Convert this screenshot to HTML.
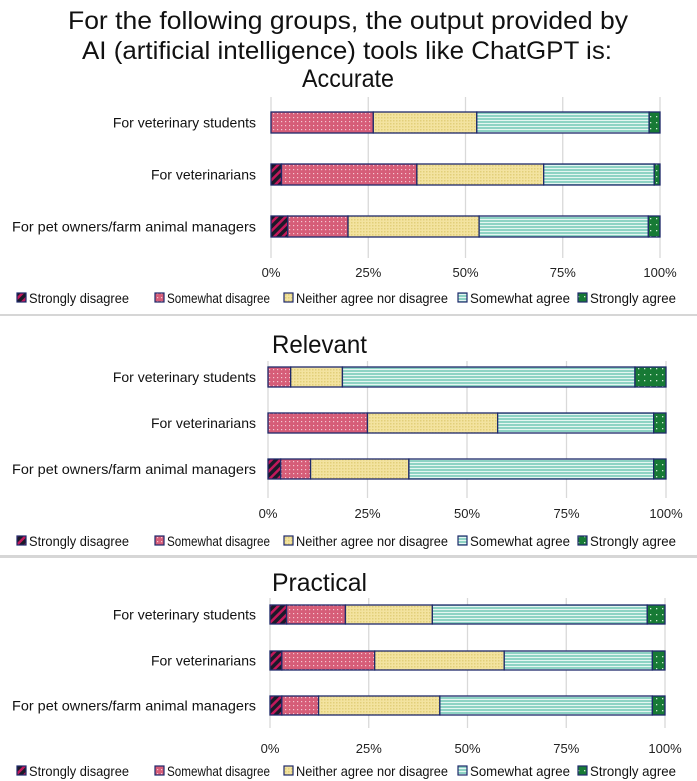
<!DOCTYPE html>
<html><head><meta charset="utf-8"><style>
html,body{margin:0;padding:0;background:#fff;}
svg{display:block;font-family:"Liberation Sans",sans-serif;}
</style></head><body>
<svg id="chart" width="697" height="781" viewBox="0 0 697 781">
<defs>
<pattern id="pSD" width="6" height="6" patternUnits="userSpaceOnUse" patternTransform="rotate(45)"><rect width="6" height="6" fill="#1a1a2a"/><rect width="2.5" height="6" fill="#c2185b"/></pattern>
<pattern id="pSWD" width="4" height="4" patternUnits="userSpaceOnUse"><rect width="4" height="4" fill="#d65d78"/><rect x="1" y="1" width="1.2" height="1.2" fill="#f4c6d0"/></pattern>
<pattern id="pN" width="3" height="3" patternUnits="userSpaceOnUse"><rect width="3" height="3" fill="#f3e3a0"/><rect width="1.5" height="1.5" fill="#e2cf7a"/></pattern>
<pattern id="pSA" width="4" height="3" patternUnits="userSpaceOnUse"><rect width="4" height="3" fill="#8ed3c4"/><rect width="4" height="1" fill="#e4f6f1"/></pattern>
<pattern id="pSTA" width="6" height="6" patternUnits="userSpaceOnUse"><rect width="6" height="6" fill="#177a35"/><rect x="2" y="2" width="1.3" height="1.3" fill="#cfe9d4"/></pattern>
</defs>
<g font-size="25" fill="#111" text-anchor="middle">
<text x="348" y="29" textLength="560" lengthAdjust="spacingAndGlyphs">For the following groups, the output provided by</text>
<text x="347" y="59" textLength="530" lengthAdjust="spacingAndGlyphs">AI (artificial intelligence) tools like ChatGPT is:</text>
</g>
<rect x="0" y="314" width="697" height="2" fill="#d6d6d6"/>
<rect x="0" y="555" width="697" height="3" fill="#d6d6d6"/>
<g id="plots"></g>
</svg>
<script>
const categories = ["For veterinary students","For veterinarians","For pet owners/farm animal managers"];
const seriesNames = ["Strongly disagree","Somewhat disagree","Neither agree nor disagree","Somewhat agree","Strongly agree"];
const panelTitles = ["Accurate","Relevant","Practical"];
const tickLabels = ["0%","25%","50%","75%","100%"];
const tickValues = [0,25,50,75,100];
// per-panel, per-row segment percentages (SD, SWD, N, SA, STA)
const accurateValues = [[0,26.3,26.6,44.3,2.8],[2.7,34.8,32.6,28.4,1.5],[4.3,15.5,33.7,43.5,3.0]];
const relevantValues = [[0,5.7,13.0,73.5,7.8],[0,25.0,32.7,39.2,3.1],[3.2,7.5,24.7,61.5,3.1]];
const practicalValues = [[4.2,14.9,22.0,54.4,4.5],[3.0,23.5,32.8,37.5,3.2],[3.0,9.3,30.7,53.8,3.2]];
const allValues = [accurateValues, relevantValues, practicalValues];

const fills = ["url(#pSD)","url(#pSWD)","url(#pN)","url(#pSA)","url(#pSTA)"];
const layouts = [
 {x0:271,x1:660,title:{x:348,y:87,anchor:"middle",len:92},gridTop:97,gridBot:258,rows:[112,164,216],bh:21,tickY:277,legY:303},
 {x0:268,x1:666,title:{x:272,y:353,anchor:"start",len:95},gridTop:361,gridBot:498,rows:[367,413,459],bh:20,tickY:518,legY:546},
 {x0:270,x1:665,title:{x:272,y:591,anchor:"start",len:95},gridTop:598,gridBot:728,rows:[605,651,696],bh:19,tickY:753,legY:776}
];
const legX=[17,155,284,458,578], legLen=[100,103,152,100,86];
const NS="http://www.w3.org/2000/svg";
const root=document.getElementById('plots');
function mk(t,a,p){const e=document.createElementNS(NS,t);for(const k in a)e.setAttribute(k,a[k]);p.appendChild(e);return e;}
layouts.forEach((L,pi)=>{
 const g=mk('g',{},root);
 
 
 const xs=v=>L.x0+(L.x1-L.x0)*v/100;
 const t=mk('text',{x:L.title.x,y:L.title.y,'font-size':25,'text-anchor':L.title.anchor,fill:'#111',textLength:L.title.len,lengthAdjust:'spacingAndGlyphs'},g);
 t.textContent=panelTitles[pi];
 
 
 tickValues.forEach((tv,i)=>{
  const ln=mk('line',{x1:xs(tv),x2:xs(tv),y1:L.gridTop,y2:L.gridBot,stroke:'#d9d9d9','stroke-width':1.3},g);
  
  
  const tl=mk('text',{x:xs(tv),y:L.tickY,'font-size':13,'text-anchor':'middle',fill:'#222'},g);
  tl.textContent=tickLabels[i];
  
  
 });
 const vals=allValues[pi];
 categories.forEach((c,ri)=>{
  const y=L.rows[ri];
  const lab=mk('text',{x:256,y:y+L.bh/2+5,'font-size':14,'text-anchor':'end',fill:'#111'},g);
  lab.textContent=c;
  if(ri===2){lab.setAttribute('textLength',244);lab.setAttribute('lengthAdjust','spacingAndGlyphs');}
  
  
  let cum=0;
  vals[ri].forEach((v,si)=>{
   if(v<=0){return;}
   const r=mk('rect',{x:xs(cum),y:y,width:xs(cum+v)-xs(cum),height:L.bh,fill:fills[si],stroke:'#1f2a6b','stroke-width':1.3},g);
   
   
   cum+=v;
  });
 });
 seriesNames.forEach((s,si)=>{
  const bx=mk('rect',{x:legX[si],y:L.legY-10,width:9,height:9,fill:fills[si],stroke:'#1f2a6b','stroke-width':1.2},g);
  
  
  const lt=mk('text',{x:legX[si]+12,y:L.legY,'font-size':14,fill:'#111',textLength:legLen[si],lengthAdjust:'spacingAndGlyphs'},g);
  lt.textContent=s;
  
  
 });
});
</script>
</body></html>
